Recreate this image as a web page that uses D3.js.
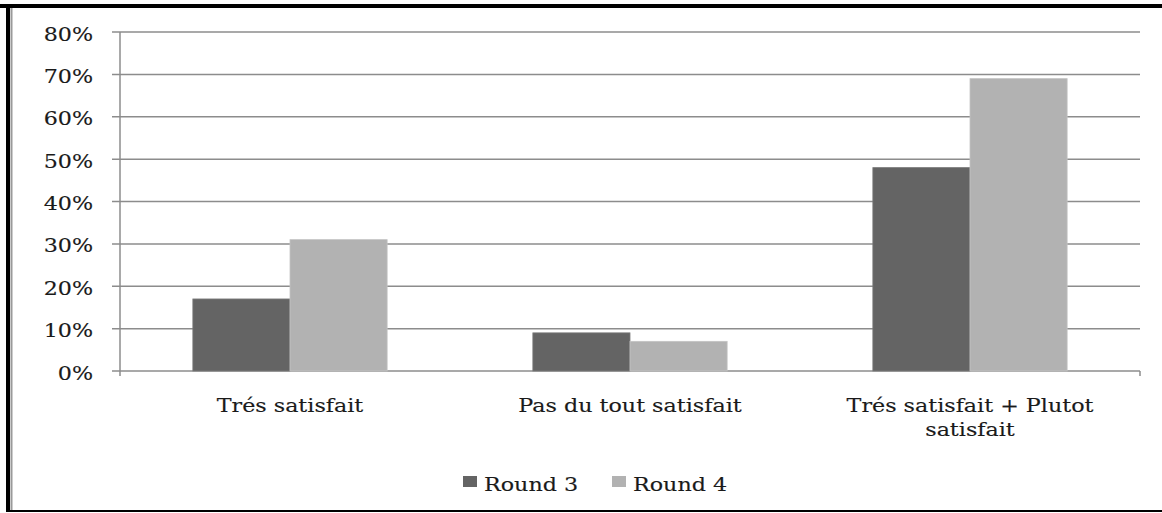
<html>
<head>
<meta charset="utf-8">
<title>Satisfaction by round</title>
<script src="https://cdn.jsdelivr.net/npm/d3@7"></script>
<style>
  body { margin: 0; background: #fff; }
  text { font-family: "DejaVu Serif", serif; fill: #1a1a1a; stroke: #1a1a1a; stroke-width: 0.15; }
</style>
</head>
<body>
<div id="chartholder"></div>
<script>
var categories = [["Trés satisfait"], ["Pas du tout satisfait"], ["Trés satisfait + Plutot", "satisfait"]];
var seriesNames = ["Round 3", "Round 4"];
var round3 = [17, 9, 48];
var round4 = [31, 7, 69];
var yTicks = [0, 10, 20, 30, 40, 50, 60, 70, 80];
var colors = ["#646464", "#b2b2b2"];

var width = 1162, height = 513;
var plot = {left: 120, right: 1140, top: 32, bottom: 371};
var stretch = 1.17; // text in the picture is a little wide

var svg = d3.select('#chartholder').append('svg')
    .attr('width', width).attr('height', height);

// frame
svg.append('rect').attr('x', 0).attr('y', 4).attr('width', width).attr('height', 4).attr('fill', '#000');
svg.append('rect').attr('x', 6).attr('y', 4).attr('width', 4).attr('height', 508).attr('fill', '#000');
svg.append('rect').attr('x', 10.5).attr('y', 8).attr('width', 2).attr('height', 502).attr('fill', '#9a9a9a');
svg.append('rect').attr('x', 6).attr('y', 510).attr('width', width).attr('height', 2).attr('fill', '#000');

var x0 = d3.scaleBand().domain(d3.range(categories.length)).range([plot.left, plot.right]).paddingInner(0).paddingOuter(0);
var x1 = d3.scaleBand().domain(seriesNames).range([0, x0.bandwidth()]).paddingOuter(0.75).paddingInner(0);
var y = d3.scaleLinear().domain([0, 80]).range([plot.bottom, plot.top]);

// gridlines
svg.append('g').selectAll('line').data(yTicks).enter().append('line')
    .attr('x1', plot.left - 8).attr('x2', plot.right)
    .attr('y1', function(d) { return y(d); }).attr('y2', function(d) { return y(d); })
    .attr('stroke', '#8c8c8c').attr('stroke-width', 1.5);

// y axis line and end ticks
svg.append('line').attr('x1', plot.left).attr('x2', plot.left).attr('y1', plot.top).attr('y2', plot.bottom + 5)
    .attr('stroke', '#8c8c8c').attr('stroke-width', 1.5);
svg.append('line').attr('x1', plot.right).attr('x2', plot.right).attr('y1', plot.bottom).attr('y2', plot.bottom + 5)
    .attr('stroke', '#8c8c8c').attr('stroke-width', 1.5);

// y labels
svg.append('g').selectAll('text').data(yTicks).enter().append('text')
    .attr('transform', function(d) { return 'translate(93,' + (y(d) + 8.5) + ') scale(' + stretch + ',1)'; })
    .attr('text-anchor', 'end').attr('font-size', 19)
    .text(function(d) { return d + '%'; });

// bars
var values = [round3, round4];
seriesNames.forEach(function(name, si) {
    svg.append('g').selectAll('rect').data(values[si]).enter().append('rect')
        .attr('x', function(d, i) { return x0(i) + x1(name); })
        .attr('y', function(d) { return y(d); })
        .attr('width', x1.bandwidth())
        .attr('height', function(d) { return y(0) - y(d); })
        .attr('fill', colors[si])
        .attr('stroke', si === 0 ? '#7a7a7a' : '#c4c4c4').attr('stroke-width', 0.8);
});

// category labels
categories.forEach(function(lines, i) {
    lines.forEach(function(line, li) {
        svg.append('text')
            .attr('transform', 'translate(' + (x0(i) + x0.bandwidth() / 2) + ',' + (411.5 + li * 24.5) + ') scale(' + stretch + ',1)')
            .attr('text-anchor', 'middle').attr('font-size', 19)
            .text(line);
    });
});

// legend
var legendX = [463, 612];
seriesNames.forEach(function(name, si) {
    svg.append('rect').attr('x', legendX[si]).attr('y', 476).attr('width', 14).attr('height', 11).attr('fill', colors[si]);
    svg.append('text')
        .attr('transform', 'translate(' + (legendX[si] + 21) + ',490.5) scale(' + stretch + ',1)')
        .attr('font-size', 19)
        .text(name);
});
</script>
</body>
</html>
